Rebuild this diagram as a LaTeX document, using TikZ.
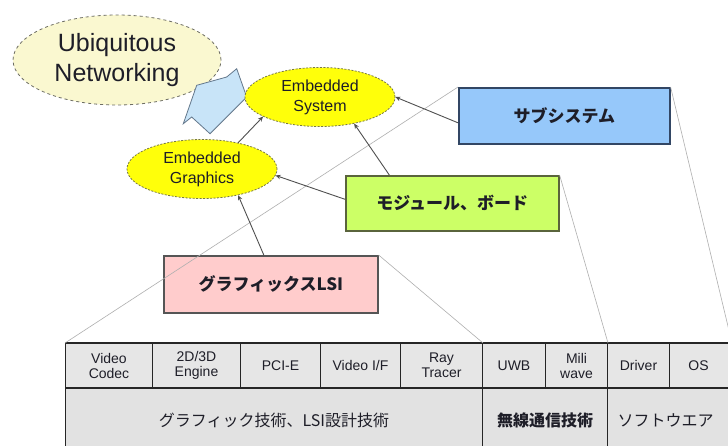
\documentclass[tikz,border=0pt]{standalone}
\usepackage{fontspec}
\setmainfont{Liberation Sans}
\newfontfamily\jp{Noto Sans CJK JP}
\usetikzlibrary{shapes.geometric,arrows.meta}
\definecolor{ubqfill}{RGB}{250,248,208}
\definecolor{ubqline}{RGB}{110,110,100}
\definecolor{embfill}{RGB}{255,255,10}
\definecolor{embline}{RGB}{120,120,70}
\definecolor{arrfill}{RGB}{200,228,248}
\definecolor{arrline}{RGB}{100,120,140}
\definecolor{subfill}{RGB}{150,200,250}
\definecolor{subline}{RGB}{50,70,100}
\definecolor{modfill}{RGB}{204,255,102}
\definecolor{modline}{RGB}{90,100,60}
\definecolor{lsifill}{RGB}{255,204,204}
\definecolor{lsiline}{RGB}{85,85,85}
\definecolor{cellA}{RGB}{230,230,230}
\definecolor{cellB}{RGB}{226,226,226}
\definecolor{connc}{RGB}{80,80,80}
\definecolor{projc}{RGB}{175,175,175}
\definecolor{txt}{RGB}{30,30,40}
\tikzset{
  ubq/.style={ellipse, draw=ubqline, fill=ubqfill, dashed, line width=0.8pt, inner sep=0pt,
    minimum width=208pt, minimum height=90pt, align=center, text=txt,
    font=\fontsize{25}{30}\selectfont},
  emb/.style={ellipse, draw=embline, fill=embfill, dash pattern=on 2pt off 1.5pt, line width=0.8pt,
    inner sep=0pt, minimum width=150pt, minimum height=59pt, align=center, text=txt,
    font=\fontsize{16}{20}\selectfont},
  jbox/.style={rectangle, line width=1.6pt, inner sep=0pt, anchor=north west, text=txt,
    font=\jp\bfseries\fontsize{17}{20}\selectfont},
  cellt/.style={rectangle, draw=black!85, line width=1pt, fill=cellA, inner sep=0pt, anchor=north west,
    minimum height=44pt, align=center, text=txt, font=\fontsize{14}{15}\selectfont},
  cellb/.style={rectangle, draw=black!85, line width=1pt, fill=cellB, inner sep=0pt, anchor=north west,
    minimum height=66pt, text=txt, font=\jp\fontsize{16}{18}\selectfont},
  conn/.style={draw=connc, line width=0.9pt, -{Stealth[length=5pt,width=4.5pt]}},
  proj/.style={draw=projc, line width=0.6pt},
}
\begin{document}
\begin{tikzpicture}[x=1pt,y=-1pt]
\useasboundingbox (0,0) rectangle (728,445);
\clip (0,0) rectangle (728,445);
\fill[white] (0,0) rectangle (728,445);

% table cells
\node[cellt, minimum width=87pt] (vc)  at (65,343)  {Video\\Codec};
\node[cellt, minimum width=88pt] (e23) at (152,343) {2D/3D\\Engine};
\node[cellt, minimum width=80pt] (pci) at (240,343) {PCI-E};
\node[cellt, minimum width=80pt] (vif) at (320,343) {Video I/F};
\node[cellt, minimum width=82pt] (rt)  at (400,343) {Ray\\Tracer};
\node[cellt, minimum width=63pt] (uwb) at (482,343) {UWB};
\node[cellt, minimum width=62pt] (mw)  at (545,343) {Mili\\wave};
\node[cellt, minimum width=62pt] (drv) at (607,343) {Driver};
\node[cellt, minimum width=62pt] (os)  at (669,343) {\hspace*{-4pt}OS};
\node[cellb, minimum width=417pt] (gt) at (65,387)  {グラフィック技術、LSI設計技術};
\node[cellb, minimum width=125pt, font=\jp\bfseries\fontsize{16}{18}\selectfont] (wt) at (482,387) {無線通信技術};
\node[cellb, minimum width=124pt] (st) at (607,387) {\hspace*{-8pt}ソフトウエア};
\draw[black!85, line width=1.8pt] (vc.south west) -- (os.south east);
\draw[black!85, line width=1.4pt] (vc.north west) -- (os.north east);

% boxes
\node[jbox, fill=subfill, draw=subline, minimum width=211pt, minimum height=56pt] (sub) at (458,87) {サブシステム};
\node[jbox, fill=modfill, draw=modline, minimum width=213pt, minimum height=55pt] (mod) at (345,175) {モジュール、ボード};
\node[jbox, fill=lsifill, draw=lsiline, minimum width=214pt, minimum height=57pt] (lsi) at (163,255) {グラフィックスLSI};

% projection lines
\draw[proj] (sub.north west) -- (vc.north west);
\draw[proj] (sub.north east) -- (os.north east);
\draw[proj] (mod.north east) -- (mw.north east);
\draw[proj] (lsi.north east) -- (rt.north east);

% ellipses
\node[ubq] (ubq) at (117,60) {Ubiquitous\\Networking};
\filldraw[fill=arrfill, draw=arrline, line width=0.8pt]
  (196.7,85.3) -- (226.7,77) -- (236.7,68.7) -- (246.7,97) -- (210,133.7) -- (191.7,117) -- (183.3,123.7) -- cycle;
\node[emb] (es) at (320,97) {Embedded\\System};
\node[emb] (eg) at (202,169) {Embedded\\Graphics};

% connectors
\draw[conn] ([xshift=-7pt]lsi.north) -- (eg.-36);
\draw[conn] (eg.36) -- (es.-161);
\draw[conn] ([xshift=-63pt]mod.north) -- (es.-38);
\draw[conn] ([yshift=4pt]mod.west) -- (eg.-5);
\draw[conn] ([yshift=-7pt]sub.west) -- (es.0);
\end{tikzpicture}
\end{document}
